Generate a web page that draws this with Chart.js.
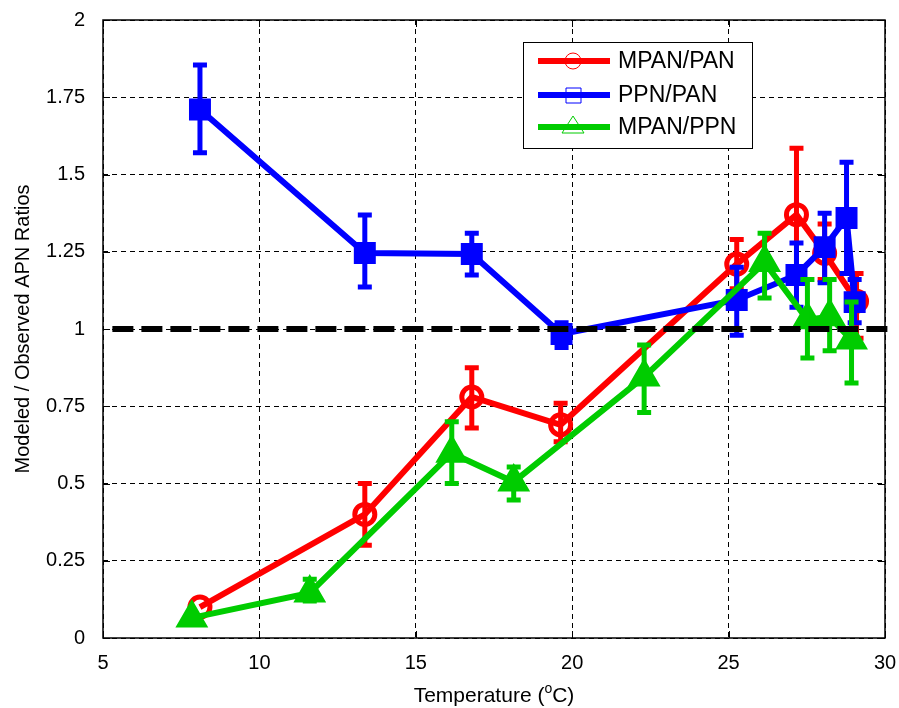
<!DOCTYPE html>
<html>
<head>
<meta charset="utf-8">
<script src="https://cdn.jsdelivr.net/npm/chart.js@4.4.0/dist/chart.umd.min.js"></script>
<style>
  body { margin: 0; background: #fff; }
  canvas { display: block; }
</style>
</head>
<body>
<canvas id="grafico" width="899" height="708"></canvas>
<script>
// Tick degli assi
const xTicks = [5, 10, 15, 20, 25, 30];
const yTicks = [0, 0.25, 0.5, 0.75, 1, 1.25, 1.5, 1.75, 2];
const yTickLabels = ['0', '0.25', '0.5', '0.75', '1', '1.25', '1.5', '1.75', '2'];

// MPAN/PAN (rosso)
const mpanPanT = [8.1, 13.37, 16.79, 19.63, 25.26, 27.17, 28.07, 29.09];
const mpanPanY = [0.10, 0.40, 0.78, 0.69, 1.21, 1.37, 1.245, 1.09];
const mpanPanLo = [null, 0.30, 0.68, 0.635, 1.13, 1.16, 1.16, 0.97];
const mpanPanHi = [null, 0.50, 0.875, 0.76, 1.29, 1.585, 1.34, 1.18];

// PPN/PAN (blu)
const ppnPanT = [8.1, 13.37, 16.79, 19.66, 25.26, 27.17, 28.07, 28.77, 29.03];
const ppnPanY = [1.71, 1.246, 1.243, 0.984, 1.094, 1.175, 1.265, 1.359, 1.087];
const ppnPanLo = [1.57, 1.136, 1.175, 0.94, 0.98, 1.07, 1.15, 1.18, 1.02];
const ppnPanHi = [1.854, 1.369, 1.31, 1.02, 1.20, 1.278, 1.375, 1.54, 1.16];

// MPAN/PPN (verde)
const mpanPpnT = [7.84, 11.61, 16.15, 18.13, 22.3, 26.15, 27.52, 28.23, 28.93];
const mpanPpnY = [0.065, 0.146, 0.598, 0.505, 0.845, 1.215, 1.03, 1.04, 0.964];
const mpanPpnLo = [null, 0.12, 0.50, 0.447, 0.73, 1.10, 0.906, 0.93, 0.825];
const mpanPpnHi = [null, 0.19, 0.70, 0.553, 0.948, 1.31, 1.16, 1.16, 1.087];

// Linea di riferimento (rapporto = 1)
const rifT = [5.3, 30.3];
const rifY = [1, 1];

const ROSSO = '#ff0000';
const BLU = '#0000ff';
const VERDE = '#00cc00';
const FONT = "'Liberation Sans', Arial, sans-serif";

function punti(xs, ys) {
    return xs.map((x, i) => ({ x: x, y: ys[i] }));
}

// Azzera il margine extra che Chart.js riserva alle etichette
function azzeraPadding(s) {
    s.paddingTop = 0;
    s.paddingBottom = 0;
    s.paddingLeft = 0;
    s.paddingRight = 0;
}

// Barre d'errore disegnate dopo ogni serie
const barreErrore = {
    id: 'barreErrore',
    afterDatasetDraw(chart, args) {
        const ds = chart.data.datasets[args.index];
        if (!ds.errLo) return;
        const sx = chart.scales.x, sy = chart.scales.y;
        const ctx = chart.ctx;
        ctx.save();
        ctx.strokeStyle = ds.borderColor;
        ctx.lineWidth = 5;
        ds.data.forEach((p, i) => {
            const lo = ds.errLo[i], hi = ds.errHi[i];
            if (lo == null) return;
            const px = sx.getPixelForValue(p.x);
            const pLo = sy.getPixelForValue(lo);
            const pHi = sy.getPixelForValue(hi);
            ctx.beginPath();
            ctx.moveTo(px, pLo); ctx.lineTo(px, pHi);
            ctx.moveTo(px - 7, pLo); ctx.lineTo(px + 7, pLo);
            ctx.moveTo(px - 7, pHi); ctx.lineTo(px + 7, pHi);
            ctx.stroke();
        });
        ctx.restore();
    }
};

// Cornice, tacche interne, titoli degli assi e legenda
const cornice = {
    id: 'cornice',
    afterDraw(chart) {
        const ctx = chart.ctx;
        const a = chart.chartArea;
        const sx = chart.scales.x, sy = chart.scales.y;
        ctx.save();
        ctx.strokeStyle = '#000';
        ctx.lineWidth = 1.5;
        ctx.strokeRect(a.left, a.top, a.right - a.left, a.bottom - a.top);

        ctx.lineWidth = 1;
        ctx.beginPath();
        xTicks.forEach(v => {
            const px = Math.round(sx.getPixelForValue(v)) + 0.5;
            ctx.moveTo(px, a.bottom); ctx.lineTo(px, a.bottom - 7);
            ctx.moveTo(px, a.top); ctx.lineTo(px, a.top + 7);
        });
        yTicks.forEach(v => {
            const py = Math.round(sy.getPixelForValue(v)) + 0.5;
            ctx.moveTo(a.left, py); ctx.lineTo(a.left + 7, py);
            ctx.moveTo(a.right, py); ctx.lineTo(a.right - 7, py);
        });
        ctx.stroke();

        // titolo asse y
        ctx.fillStyle = '#000';
        ctx.font = '20px ' + FONT;
        ctx.textAlign = 'center';
        ctx.textBaseline = 'middle';
        ctx.save();
        ctx.translate(23, (a.top + a.bottom) / 2);
        ctx.rotate(-Math.PI / 2);
        ctx.fillText('Modeled / Observed APN Ratios', 0, 0);
        ctx.restore();

        // titolo asse x con apice
        ctx.textAlign = 'left';
        ctx.textBaseline = 'alphabetic';
        const t1 = 'Temperature (', t2 = 'o', t3 = 'C)';
        ctx.font = '21px ' + FONT;
        const w1 = ctx.measureText(t1).width, w3 = ctx.measureText(t3).width;
        ctx.font = '14px ' + FONT;
        const w2 = ctx.measureText(t2).width;
        let x0 = (a.left + a.right) / 2 - (w1 + w2 + w3) / 2;
        const base = 702;
        ctx.font = '21px ' + FONT;
        ctx.fillText(t1, x0, base);
        ctx.font = '14px ' + FONT;
        ctx.fillText(t2, x0 + w1, base - 9);
        ctx.font = '21px ' + FONT;
        ctx.fillText(t3, x0 + w1 + w2, base);

        // legenda
        ctx.fillStyle = '#fff';
        ctx.fillRect(523, 42, 229, 106);
        ctx.strokeStyle = '#000';
        ctx.lineWidth = 1;
        ctx.strokeRect(523.5, 42.5, 229, 106);
        const voci = [
            { testo: 'MPAN/PAN', colore: ROSSO, y: 61, forma: 'cerchio' },
            { testo: 'PPN/PAN', colore: BLU, y: 95, forma: 'quadrato' },
            { testo: 'MPAN/PPN', colore: VERDE, y: 127, forma: 'triangolo' }
        ];
        voci.forEach(v => {
            ctx.strokeStyle = v.colore;
            ctx.lineWidth = 6;
            ctx.beginPath();
            ctx.moveTo(538, v.y); ctx.lineTo(610, v.y);
            ctx.stroke();
            ctx.lineWidth = 1;
            ctx.beginPath();
            if (v.forma === 'cerchio') {
                ctx.arc(573, v.y, 8, 0, Math.PI * 2);
            } else if (v.forma === 'quadrato') {
                ctx.rect(566, v.y - 7, 15, 15);
            } else {
                ctx.moveTo(573, v.y - 11);
                ctx.lineTo(584, v.y + 6);
                ctx.lineTo(562, v.y + 6);
                ctx.closePath();
            }
            ctx.stroke();
            ctx.fillStyle = '#000';
            ctx.font = '23px ' + FONT;
            ctx.textBaseline = 'middle';
            ctx.fillText(v.testo, 618, v.y + 1);
        });
        ctx.restore();
    }
};

function serie(label, xs, ys, lo, hi, colore, forma, raggio, ordine) {
    return {
        label: label,
        data: punti(xs, ys),
        errLo: lo,
        errHi: hi,
        borderColor: colore,
        backgroundColor: colore,
        borderWidth: 6,
        pointStyle: forma,
        pointRadius: raggio,
        pointBorderWidth: 5,
        pointBorderColor: colore,
        pointBackgroundColor: forma === 'circle' ? 'rgba(0,0,0,0)' : colore,
        tension: 0,
        order: ordine
    };
}

const ctx = document.getElementById('grafico').getContext('2d');
new Chart(ctx, {
    type: 'line',
    data: {
        datasets: [
            {
                label: 'rif',
                data: punti(rifT, rifY),
                borderColor: '#000',
                borderWidth: 6,
                borderDash: [21, 8],
                pointRadius: 0,
                clip: false,
                order: 0
            },
            serie('MPAN/PAN', mpanPanT, mpanPanY, mpanPanLo, mpanPanHi, ROSSO, 'circle', 10, 3),
            serie('PPN/PAN', ppnPanT, ppnPanY, ppnPanLo, ppnPanHi, BLU, 'rect', 12, 2),
            serie('MPAN/PPN', mpanPpnT, mpanPpnY, mpanPpnLo, mpanPpnHi, VERDE, 'triangle', 14, 1)
        ]
    },
    options: {
        responsive: false,
        animation: false,
        layout: { autoPadding: false, padding: { top: 20, right: 14, left: 0, bottom: 0 } },
        plugins: {
            legend: { display: false },
            tooltip: { enabled: false }
        },
        scales: {
            x: {
                type: 'linear',
                min: 5,
                max: 30,
                afterBuildTicks: s => { s.ticks = xTicks.map(v => ({ value: v })); },
                afterFit: s => { s.height = 70; azzeraPadding(s); },
                grid: { color: '#000', lineWidth: 1, drawTicks: false },
                border: { display: false, dash: [5, 4] },
                ticks: {
                    padding: 13,
                    color: '#000',
                    maxRotation: 0,
                    font: { family: FONT, size: 20 },
                    callback: v => String(v)
                }
            },
            y: {
                type: 'linear',
                min: 0,
                max: 2,
                afterBuildTicks: s => { s.ticks = yTicks.map(v => ({ value: v })); },
                afterFit: s => { s.width = 103; azzeraPadding(s); },
                grid: { color: '#000', lineWidth: 1, drawTicks: false },
                border: { display: false, dash: [5, 4] },
                ticks: {
                    padding: 18,
                    color: '#000',
                    font: { family: FONT, size: 20 },
                    callback: v => yTickLabels[yTicks.indexOf(v)]
                }
            }
        }
    },
    plugins: [barreErrore, cornice]
});
</script>
</body>
</html>
